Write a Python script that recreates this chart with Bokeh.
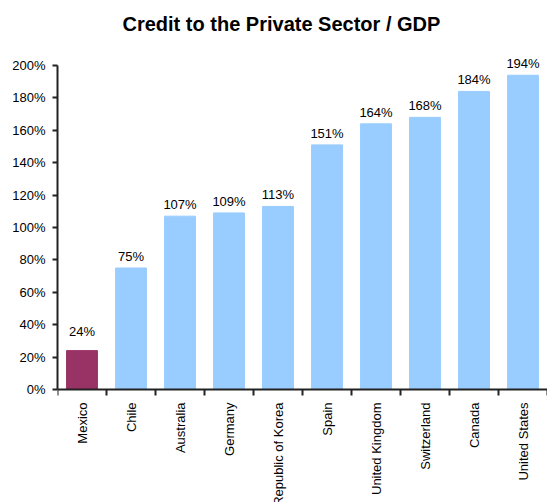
import math
from bokeh.plotting import figure
from bokeh.models import ColumnDataSource, FixedTicker, Range1d, Title, Span
from bokeh.core.properties import value
from bokeh.embed import file_html
from bokeh.resources import INLINE

countries = ["Mexico", "Chile", "Australia", "Germany", "Republic of Korea",
             "Spain", "United Kingdom", "Switzerland", "Canada", "United States"]
credit_pct = [24, 75, 107, 109, 113, 151, 164, 168, 184, 194]
bar_colors = ["#993366"] + ["#99CCFF"] * 9
y_ticks = [0, 20, 40, 60, 80, 100, 120, 140, 160, 180, 200]

FONT = "Liberation Sans, Arial"
AXIS_COLOR = "#222222"

# layout: value 0 at y=389px, 200 at y=65px -> 1.62 px per percentage point
PX = 324 / 200
TOP, ZERO, H = 44, 389, 502

xs = [i + 0.5 for i in range(len(countries))]
bounds = list(range(len(countries) + 1))
yoff = [-12 if c == "Mexico" else -4 for c in countries]
src = ColumnDataSource(dict(x=xs, top=credit_pct, color=bar_colors, yoff=yoff,
                            name=countries,
                            label=[f"{v}%" for v in credit_pct]))

p = figure(width=547, height=H, output_backend="svg", toolbar_location=None,
           x_range=Range1d(0, len(countries)),
           y_range=Range1d(-(H - ZERO) / PX, (ZERO - TOP) / PX),
           x_axis_location=None,
           min_border_left=57, min_border_right=0, min_border_top=TOP,
           min_border_bottom=0)
p.title = Title(text="Credit to the Private Sector / GDP", align="left", offset=65,
                text_font=FONT, text_font_size="20px", text_font_style="bold",
                text_color="black", standoff=20)
p.outline_line_color = None
p.xgrid.visible = False
p.ygrid.visible = False
p.background_fill_color = "white"

p.vbar(x="x", top="top", width=0.63, bottom=0, color="color", source=src)
p.text(x="x", y="top", text="label", text_align="center", text_baseline="bottom",
       y_offset="yoff", text_font=value(FONT), text_font_size="13px",
       text_color="black", source=src)

# category axis: line at 0, tick marks at category boundaries, vertical names
p.add_layout(Span(location=0, dimension="width", line_color=AXIS_COLOR,
                  line_width=2))
p.ray(x=bounds, y=[0] * len(bounds), length=6, length_units="screen",
      angle=-math.pi / 2, line_color=AXIS_COLOR, line_width=2)
p.text(x="x", y=0, text="name", angle=math.pi / 2, y_offset=13,
       text_align="right", text_baseline="middle", text_font=value(FONT),
       text_font_size="13px", text_color="black", source=src)

# y axis
ya = p.yaxis[0]
ya.ticker = FixedTicker(ticks=y_ticks)
ya.major_label_overrides = {t: f"{t}%" for t in y_ticks}
ya.bounds = (0, 200)
ya.axis_line_width = 2
ya.axis_line_color = AXIS_COLOR
ya.major_tick_line_color = AXIS_COLOR
ya.major_tick_line_width = 2
ya.major_tick_out = 5
ya.major_tick_in = 0
ya.minor_tick_line_color = None
ya.major_label_text_font = FONT
ya.major_label_text_font_size = "13px"
ya.major_label_text_color = "black"
ya.major_label_standoff = 7

open("out.html", "w").write(file_html(p, INLINE))
